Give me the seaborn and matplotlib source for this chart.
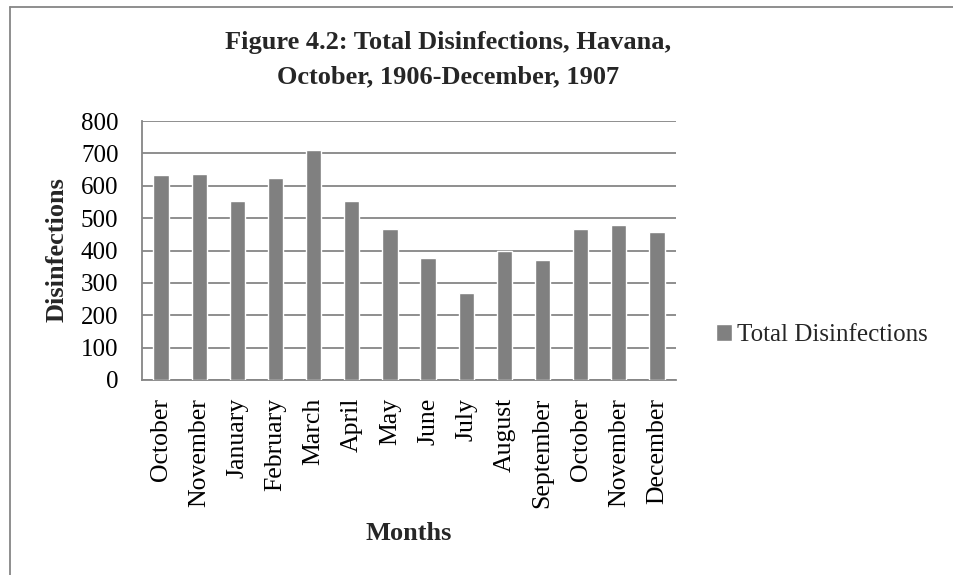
import numpy as np
import pandas as pd
import matplotlib
matplotlib.use("Agg")
import matplotlib.pyplot as plt
import seaborn as sns
from matplotlib.lines import Line2D
from matplotlib.ticker import FixedLocator

months = ["October", "November", "January", "February", "March", "April", "May",
          "June", "July", "August", "September", "October", "November", "December"]
years = [1906, 1906, 1907, 1907, 1907, 1907, 1907,
         1907, 1907, 1907, 1907, 1907, 1907, 1907]
disinfections = [632, 637, 552, 625, 710, 552, 467, 377, 268, 400, 371, 467, 479, 456]
yticks = [0, 100, 200, 300, 400, 500, 600, 700, 800]
series_name = "Total Disinfections"
title_lines = ["Figure 4.2: Total Disinfections, Havana,", "October, 1906-December, 1907"]

df = pd.DataFrame({
    "key": [f"{m} {y}" for m, y in zip(months, years)],
    series_name: disinfections,
})

sns.set_theme(style="white")
plt.rcParams["font.family"] = ["Liberation Serif", "DejaVu Serif"]

GRID = "#868686"
W, H = 954, 575
fig = plt.figure(figsize=(9.54, 5.75), dpi=100)
ax = fig.add_axes([142 / W, 1 - 380 / H, 534 / W, 259 / H])

sns.barplot(data=df, x="key", y=series_name, color="#808080",
            saturation=1, width=0.4, ax=ax, label=series_name, zorder=3)

ax.set_ylim(0, 800)
ax.set_xlim(-0.5, len(months) - 0.5)
ax.set_yticks(yticks)
ax.set_yticklabels([str(t) for t in yticks], fontsize=18)
ax.set_xticks(range(len(months)))
ax.set_xticklabels(months, rotation=90, fontsize=18.5)
ax.xaxis.set_minor_locator(FixedLocator(np.arange(-0.5, len(months), 1.0)))
ax.tick_params(axis="x", which="major", length=0, pad=13, colors="black")
ax.tick_params(axis="x", which="minor", length=5, width=1.2, color=GRID, direction="out")
ax.tick_params(axis="y", which="major", length=5, width=1.2, color=GRID,
               direction="out", pad=12, labelcolor="black")
ax.yaxis.grid(True, color=GRID, linewidth=1.3, zorder=0)
ax.set_axisbelow(True)
for s in ["top", "right"]:
    ax.spines[s].set_visible(False)
for s in ["left", "bottom"]:
    ax.spines[s].set_color(GRID)
    ax.spines[s].set_linewidth(1.3)
ax.set_xlabel("")
ax.set_ylabel("")

handles, labels = ax.get_legend_handles_labels()
fig.legend(handles, labels, loc="center left", bbox_to_anchor=(716 / W, 1 - 335 / H),
           frameon=False, fontsize=18, handlelength=0.64, handleheight=0.64,
           handletextpad=0.2, borderpad=0, borderaxespad=0)
if ax.get_legend() is not None:
    ax.get_legend().remove()

fig.text(448 / W, 1 - 43 / H, title_lines[0], ha="center", va="center",
         fontsize=19, fontweight="bold")
fig.text(448 / W, 1 - 77 / H, title_lines[1], ha="center", va="center",
         fontsize=19, fontweight="bold")
fig.text(57 / W, 1 - 250 / H, "Disinfections", rotation=90, ha="center", va="center",
         fontsize=19, fontweight="bold")
fig.text(409 / W, 1 - 540 / H, "Months", ha="center", va="baseline",
         fontsize=19, fontweight="bold")

# chart frame (top and left edges visible in the cropped reference)
fig.add_artist(Line2D([10.5 / W, 10.5 / W], [0, 1 - 7 / H], transform=fig.transFigure,
                      color=GRID, linewidth=1.3))
fig.add_artist(Line2D([10.5 / W, 1], [1 - 7 / H, 1 - 7 / H], transform=fig.transFigure,
                      color=GRID, linewidth=1.3))

fig.savefig("out.png", dpi=100)
